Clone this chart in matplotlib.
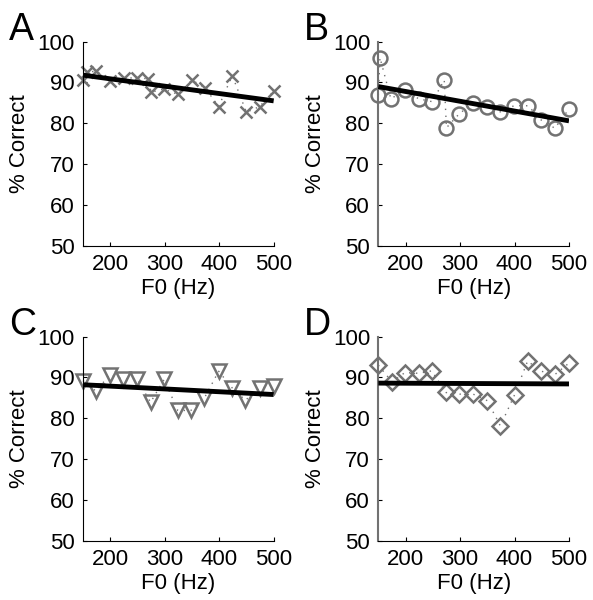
"""Percent correct versus F0 for four conditions."""
import matplotlib
matplotlib.use("Agg")
import matplotlib.pyplot as plt

plt.rcParams['font.family'] = ['Liberation Sans', 'DejaVu Sans']

# Panel A (x markers)
f0_a = [150, 157, 174, 200, 225, 249, 269, 275, 298, 324, 350, 374, 399, 424, 450, 474, 500]
pc_a = [90.6, 92.5, 92.8, 90.4, 91.0, 91.2, 90.9, 87.6, 88.4, 87.1, 90.6, 88.7, 84.1, 91.7, 82.7, 84.1, 87.9]
fit_a = [91.8, 85.5]

# Panel B (circles)
f0_b = [150, 153, 173, 199, 224, 249, 271, 275, 299, 324, 350, 374, 399, 425, 449, 474, 500]
pc_b = [86.9, 96.1, 86.0, 88.2, 86.0, 85.3, 90.6, 78.9, 82.4, 84.9, 84.1, 82.8, 84.3, 84.3, 80.8, 78.8, 83.5]
fit_b = [89.0, 80.6]

# Panel C (downward triangles)
f0_c = [150, 174, 199, 224, 249, 274, 299, 324, 348, 373, 399, 424, 448, 475, 500]
pc_c = [89.2, 86.6, 90.7, 89.5, 89.6, 83.9, 89.5, 81.9, 81.9, 85.0, 91.5, 87.4, 84.4, 87.4, 87.8]
fit_c = [88.2, 85.8]

# Panel D (diamonds)
f0_d = [150, 175, 199, 224, 248, 274, 299, 324, 350, 374, 400, 424, 449, 475, 500]
pc_d = [93.0, 88.9, 91.2, 91.0, 91.6, 86.3, 85.9, 85.9, 84.3, 78.1, 85.7, 94.0, 91.5, 90.8, 93.5]
fit_d = [88.6, 88.4]

fit_x = [150, 500]
letters = ["A", "B", "C", "D"]
markers = ["x", "o", "v", "D"]
msizes = [9, 10, 10, 8]
gray = "#727272"

fig = plt.figure(figsize=(5.93, 6.0), dpi=100)
lefts = [0.140, 0.638, 0.140, 0.638]
bottoms = [0.5905, 0.5905, 0.099, 0.099]
data = [(f0_a, pc_a, fit_a), (f0_b, pc_b, fit_b), (f0_c, pc_c, fit_c), (f0_d, pc_d, fit_d)]

for i, (xs, ys, fit) in enumerate(data):
    ax = fig.add_axes([lefts[i], bottoms[i], 0.3215, 0.34])
    line, = ax.plot(xs, ys, linestyle=':', color=gray, linewidth=1.0,
                    marker=markers[i], markersize=msizes[i], markerfacecolor='none',
                    markeredgecolor=gray, markeredgewidth=1.8, clip_on=False, zorder=2)
    line.set_dashes([1, 4])
    ax.plot(fit_x, fit, color='black', linewidth=3.5, solid_capstyle='butt', zorder=3)

    ax.set_xlim(150, 500)
    ax.set_ylim(50, 100)
    ax.set_xticks([200, 300, 400, 500])
    ax.set_yticks([50, 60, 70, 80, 90, 100])
    ax.tick_params(direction='in', length=3, width=0.8, labelsize=16, pad=6)
    ax.spines['top'].set_visible(False)
    ax.spines['right'].set_visible(False)
    if i % 2 == 1:
        ax.spines['left'].set_color(gray)
        ax.spines['left'].set_linewidth(1.5)
    ax.set_xlabel("F0 (Hz)", fontsize=16, labelpad=2)
    ax.set_ylabel("% Correct", fontsize=16, labelpad=5)
    ax.patch.set_alpha(0)

    fig.text(lefts[i] - 0.125, bottoms[i] + 0.36, letters[i], fontsize=27,
             ha='left', va='center')

fig.savefig("out.png", dpi=100)
